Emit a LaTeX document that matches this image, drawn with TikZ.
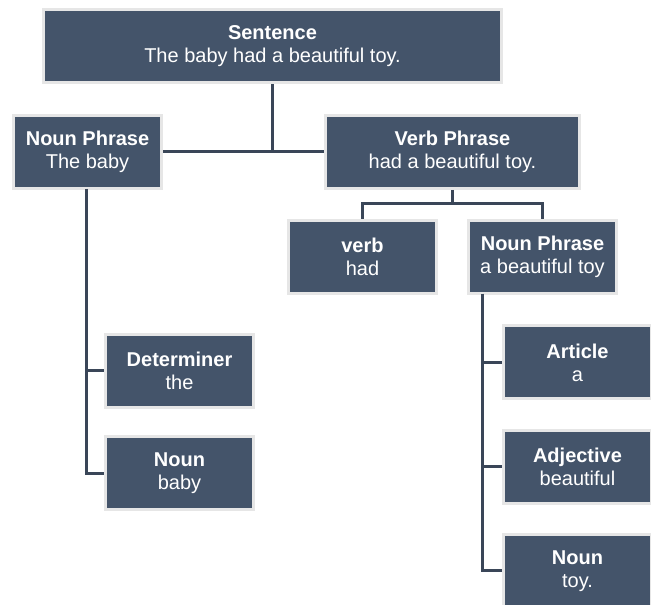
\documentclass[tikz,border=0pt]{standalone}
\usepackage{fontspec}
\setmainfont{Liberation Sans}
\usepackage{tikz}

\definecolor{slate}{HTML}{44546A}
\definecolor{slatedark}{HTML}{3A4658}
\definecolor{rim}{HTML}{E6E6E6}

\tikzset{
  word/.style={draw=rim, line width=2.25pt, fill=slate, text=white,
    align=center, inner sep=0pt, minimum width=111pt, minimum height=54.75pt,
    font=\fontsize{15pt}{17.25pt}\selectfont},
  link/.style={draw=slatedark, line width=2.25pt}
}

\begin{document}
\begin{tikzpicture}[x=0.75pt, y=-0.75pt]
    \useasboundingbox (0,0) rectangle (651,605);
    % Boxes
    \node[word, minimum width=343.5pt] (sent) at (272.5,46.5)
    {\textbf{Sentence}\\The baby had a beautiful toy.};
    \node[word] (npl) at (87.5,152) {\textbf{Noun Phrase}\\The baby};
    \node[word, minimum width=190.5pt] (vp) at (452.5,152)
    {\textbf{Verb Phrase}\\had a beautiful toy.};
    \node[word] (verb) at (362.5,257) {\textbf{verb}\\had};
    \node[word] (npr) at (542.5,257) {\textbf{Noun Phrase}\\a beautiful toy};
    \node[word] (det) at (179.5,371) {\textbf{Determiner}\\the};
    \node[word] (nounl) at (179.5,473.5) {\textbf{Noun}\\baby};
    \node[word] (art) at (577.5,362.5) {\textbf{Article}\\a};
    \node[word] (adj) at (577.5,467) {\textbf{Adjective}\\beautiful};
    \node[word] (nounr) at (577.5,571) {\textbf{Noun}\\toy.};
    % Junctions
    \coordinate (top) at (272.5,152);
    \coordinate (vpj) at (452.5,203.5);
    \coordinate (trunkl) at (86,189);
    \coordinate (trunkr) at (482,294);
    % Links
    \draw[link] (sent.south) -- (top);
    \draw[link] (npl.east) -- (vp.west);
    \draw[link] (vp.south) -- (vpj);
    \draw[link] (verb.north) |- (vpj) -| (npr.north);
    \draw[link] (trunkl) |- (det.west);
    \draw[link] (trunkl) |- (nounl.west);
    \draw[link] (trunkr) |- (art.west);
    \draw[link] (trunkr) |- (adj.west);
    \draw[link] (trunkr) |- (nounr.west);
\end{tikzpicture}
\end{document}
